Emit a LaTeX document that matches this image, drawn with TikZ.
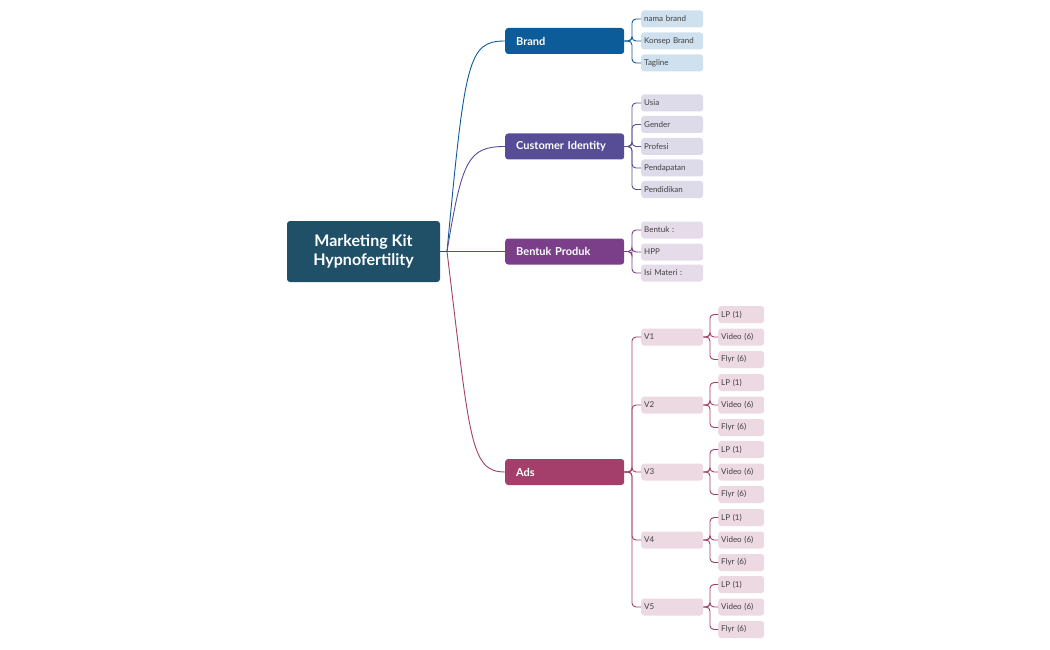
\documentclass[tikz,border=0pt]{standalone}
\usepackage{fontspec}
\setmainfont{Lato}
\begin{document}
\begin{tikzpicture}[x=1pt,y=-1pt,
 main/.style={rounded corners=3pt,minimum width=119pt,minimum height=26pt,text=white,font=\bfseries\fontsize{11}{13}\selectfont,anchor=west,inner xsep=11pt,text width=97pt,align=left},
 leaf/.style={rounded corners=3pt,minimum width=62pt,minimum height=17pt,font=\fontsize{8}{10}\selectfont,anchor=west,inner xsep=3pt,text width=56pt,align=left,text=black!75},
 sub/.style={leaf,minimum width=46pt,text width=40pt},
 con/.style={line width=0.9pt,rounded corners=4pt}]
\useasboundingbox (0,0) rectangle (1050,650);
\definecolor{cr}{HTML}{1F5068}
\definecolor{cb}{HTML}{0B5C99}\definecolor{lb}{HTML}{CFE0EE}
\definecolor{cc}{HTML}{574C96}\definecolor{lc}{HTML}{DDDBEA}
\definecolor{cp}{HTML}{7A3F88}\definecolor{lp}{HTML}{E6DBE9}
\definecolor{ca}{HTML}{A33F6A}\definecolor{la}{HTML}{ECD9E2}
\node[fill=cr,rounded corners=3pt,minimum width=153pt,minimum height=61pt,text=white,font=\bfseries\fontsize{16}{19}\selectfont,align=center] (root) at (363.5,251.5) {Marketing Kit\\Hypnofertility};
\coordinate (rs) at (447,251.5);
\draw[cr,line width=0.9pt] (root.east) -- (rs);
\node[main,fill=cb] (brand) at (505,41) {Brand};
\node[main,fill=cc] (ci) at (505,146.5) {Customer Identity};
\node[main,fill=cp] (bp) at (505,251.5) {Bentuk Produk};
\node[main,fill=ca] (ads) at (505,472) {Ads};
\draw[cb,line width=0.9pt] (rs) .. controls (465,60) and (468,41) .. (brand.west);
\draw[cc,line width=0.9pt] (rs) .. controls (462,160) and (468,146.5) .. (ci.west);
\draw[cp,line width=0.9pt] (rs) -- (bp.west);
\draw[ca,line width=0.9pt] (rs) .. controls (470,440) and (470,472) .. (ads.west);
% brand leaves
\foreach \n/\t/\y in {b1/nama brand/19,b2/Konsep Brand/41,b3/Tagline/63}{
 \node[leaf,fill=lb] (\n) at (641,\y) {\t};
 \draw[con,cb] (brand.east) -- (632,41) |- (\n.west);}
\foreach \n/\t/\y in {c1/Usia/103,c2/Gender/124.5,c3/Profesi/146.5,c4/Pendapatan/168,c5/Pendidikan/189.5}{
 \node[leaf,fill=lc] (\n) at (641,\y) {\t};
 \draw[con,cc] (ci.east) -- (632,146.5) |- (\n.west);}
\foreach \n/\t/\y in {p1/Bentuk :/230,p2/HPP/252,p3/Isi Materi :/273}{
 \node[leaf,fill=lp] (\n) at (641,\y) {\t};
 \draw[con,cp] (bp.east) -- (632,251.5) |- (\n.west);}
\foreach \i/\y in {1/337,2/405,3/472,4/540,5/607}{
 \node[leaf,fill=la] (v\i) at (641,\y) {V\i};
 \draw[con,ca] (ads.east) -- (632,472) |- (v\i.west);
 \foreach \j/\t/\d in {a/LP (1)/-22.5,b/Video (6)/0,c/Flyr (6)/22.5}{
  \node[sub,fill=la] (v\i\j) at (718,\y+\d) {\t};
  \draw[con,ca] (v\i.east) -- (710,\y) |- (v\i\j.west);}}
\end{tikzpicture}
\end{document}
